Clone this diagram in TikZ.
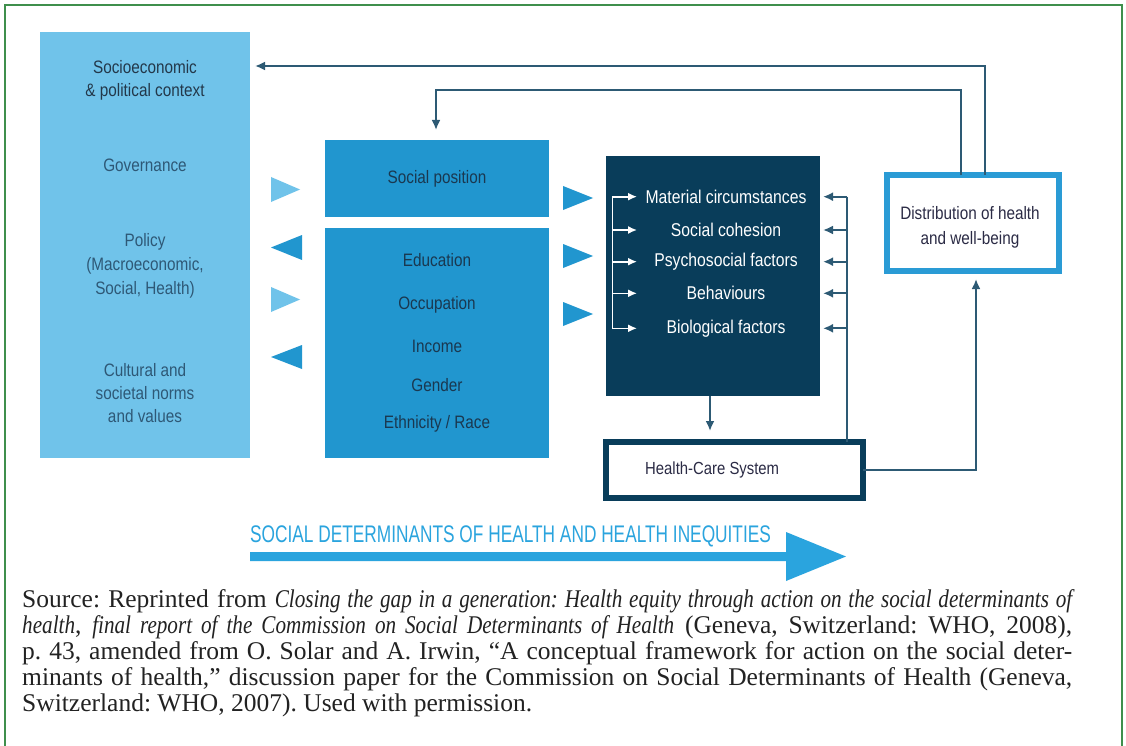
\documentclass[tikz,border=0pt]{standalone}
\usepackage{fontspec}
\usetikzlibrary{arrows.meta,calc}
\newfontfamily\dfont[FakeStretch=0.85]{Liberation Sans}
\newfontfamily\sdhfont[FakeStretch=0.72]{Liberation Sans}
\newfontfamily\capfont{Liberation Serif}
\newfontfamily\capit[FakeStretch=0.83]{Liberation Serif}
\newcommand\ci[1]{{\capit\itshape #1}}
\definecolor{lblue}{HTML}{70C3EA}
\definecolor{mblue}{HTML}{2196CF}
\definecolor{navy}{HTML}{093D5A}
\definecolor{connc}{HTML}{2D5A74}
\definecolor{dbord}{HTML}{2A9BD5}
\definecolor{sdhc}{HTML}{2AA4DE}
\definecolor{framec}{HTML}{3F8F4C}
\definecolor{ltext}{HTML}{2E5876}
\definecolor{htext}{HTML}{23384A}
\definecolor{mtext}{HTML}{1A3850}
\definecolor{dtext}{HTML}{2B2B45}
\definecolor{captext}{HTML}{222222}
\begin{document}
\frenchspacing
\begin{tikzpicture}[x=1pt,y=-1pt,
  box/.style={inner sep=0pt, outer sep=0pt, anchor=north west},
  lbl/.style={font=\dfont\fontsize{18}{23}\selectfont, align=center, inner sep=0pt},
  wlbl/.style={lbl, text=white, font=\dfont\fontsize{18.5}{23}\selectfont},
  conn/.style={draw=connc, line width=2pt},
  ctip/.style={-{Latex[length=10pt,width=9pt]}},
  wconn/.style={draw=white, line width=1.6pt},
  wtip/.style={-{Latex[length=9pt,width=8pt]}},
  captxt/.style={font=\capfont\fontsize{25.5}{26}\selectfont\frenchspacing, text=captext, inner sep=0pt, anchor=base west},
]
\useasboundingbox (0,0) rectangle (1126,746);
\fill[white] (0,0) rectangle (1126,746);
\draw[framec, line width=1.5pt] (5,750) -- (5,5) -- (1122,5) -- (1122,750);

% boxes
\node[box, fill=lblue, minimum width=210pt, minimum height=426pt] (ctx) at (40,32) {};
\node[box, fill=mblue, minimum width=224pt, minimum height=77pt] (sp) at (325,140) {};
\node[box, fill=mblue, minimum width=224pt, minimum height=230pt] (strat) at (325,228) {};
\node[box, fill=navy, minimum width=214pt, minimum height=240pt] (inter) at (606,156) {};
\node[box, draw=navy, line width=6pt, fill=white, minimum width=257pt, minimum height=55.7pt] (hcs) at (606,442) {};
\node[box, draw=dbord, line width=6pt, fill=white, minimum width=172pt, minimum height=96pt] (dist) at (887,175) {};

% left texts
\node[lbl, text=htext] (l1) at (145,80) {Socioeconomic\\\& political context};
\node[lbl, text=ltext] (l2) at (145,165) {Governance};
\node[lbl, text=ltext, font=\dfont\fontsize{18}{24}\selectfont] (l3) at (145,266) {Policy\\(Macroeconomic,\\Social, Health)};
\node[lbl, text=ltext] (l4) at (145,393) {Cultural and\\societal norms\\and values};

% middle texts
\node[lbl, text=mtext] (s0) at (437,179) {Social position};
\node[lbl, text=mtext] (s1) at (437,260) {Education};
\node[lbl, text=mtext] (s2) at (437,305) {Occupation};
\node[lbl, text=mtext] (s3) at (437,346) {Income};
\node[lbl, text=mtext] (s4) at (437,385) {Gender};
\node[lbl, text=mtext] (s5) at (437,424) {Ethnicity / Race};

% intermediary texts
\node[wlbl] (m1) at (726,196.7) {Material circumstances};
\node[wlbl] (m2) at (726,230) {Social cohesion};
\node[wlbl] (m3) at (726,261.7) {Psychosocial factors};
\node[wlbl] (m4) at (726,293.3) {Behaviours};
\node[wlbl] (m5) at (726,328.3) {Biological factors};

\node[lbl, text=dtext] (dt) at (970,227) {Distribution of health\\[2pt]and well-being};
\node[lbl, text=dtext, anchor=west, font=\dfont\fontsize{17.5}{22}\selectfont] (ht) at ([xshift=39pt]hcs.west) {Health-Care System};

% triangles left column
\fill[lblue] (271,177) -- (271,202) -- (300,189.5) -- cycle;
\fill[mblue] (302,235) -- (302,260) -- (271,247.5) -- cycle;
\fill[lblue] (271,287) -- (271,312) -- (300,299.5) -- cycle;
\fill[mblue] (302,345) -- (302,369) -- (271,357) -- cycle;
% triangles middle column
\fill[mblue] (563,186) -- (563,210) -- (593,198) -- cycle;
\fill[mblue] (563,244) -- (563,268) -- (593,256) -- cycle;
\fill[mblue] (563,302) -- (563,326) -- (593,314) -- cycle;

% white bracket inside intermediary box
\coordinate (wl) at (612.3,196.7);
\coordinate (we) at (637,0);
\draw[wconn] (wl) -- (wl |- m5) -- ++(2,0);
\foreach \m in {m1,m2,m3,m4,m5}
  \draw[wconn, wtip] (wl |- \m) -- (we |- \m);

% right vertical feedback into intermediary factors
\coordinate (rv) at (846.7,196.7);
\draw[conn] (rv) -- (rv |- hcs.north);
\foreach \m in {m1,m2,m3,m4,m5}
  \draw[conn, ctip] (rv |- \m) -- ([xshift=3pt]inter.east |- \m);

% intermediary -> health care system
\coordinate (dn) at (710,0);
\draw[conn, ctip] (dn |- inter.south) -- ([yshift=11pt]dn |- hcs.north);

% health care system -> distribution
\coordinate (hr) at (976,0);
\draw[conn, ctip] (hcs.east) -| ([yshift=-8pt]hr |- dist.south);

% feedback loops from distribution
\coordinate (o1) at (985,66);
\draw[conn, ctip] (o1 |- dist.north) -- (o1) -- ([xshift=5pt]ctx.east |- o1);
\coordinate (o2) at (961,90);
\coordinate (o3) at (436,90);
\draw[conn, ctip] (o2 |- dist.north) -- (o2) -- (o3) -- ([yshift=10pt]o3 |- sp.north);

% big arrow
\fill[sdhc] (250,552) -- (786,552) -- (786,532) -- (846,556.5) -- (786,581) -- (786,561) -- (250,561) -- cycle;
\node[inner sep=0pt, anchor=base west, text=sdhc, font=\sdhfont\fontsize{24}{28}\selectfont] (sdh) at (250,542) {SOCIAL DETERMINANTS OF HEALTH AND HEALTH INEQUITIES};

% caption
\node[captxt] (c1) at (22,607.7) {\makebox[1050pt][s]{Source: Reprinted from \ci{Closing the gap in a generation: Health equity through action on the social determinants of}}};
\node[captxt] (c2) at (22,633.7) {\makebox[1050pt][s]{\ci{health}, \ci{final report of the Commission on Social Determinants of Health} (Geneva, Switzerland: WHO, 2008),}};
\node[captxt] (c3) at (22,659.7) {\makebox[1050pt][s]{p. 43, amended from O. Solar and A. Irwin, “A conceptual framework for action on the social deter-}};
\node[captxt] (c4) at (22,685.7) {\makebox[1050pt][s]{minants of health,” discussion paper for the Commission on Social Determinants of Health (Geneva,}};
\node[captxt] (c5) at (22,711.7) {Switzerland: WHO, 2007). Used with permission.};
\end{tikzpicture}
\end{document}
